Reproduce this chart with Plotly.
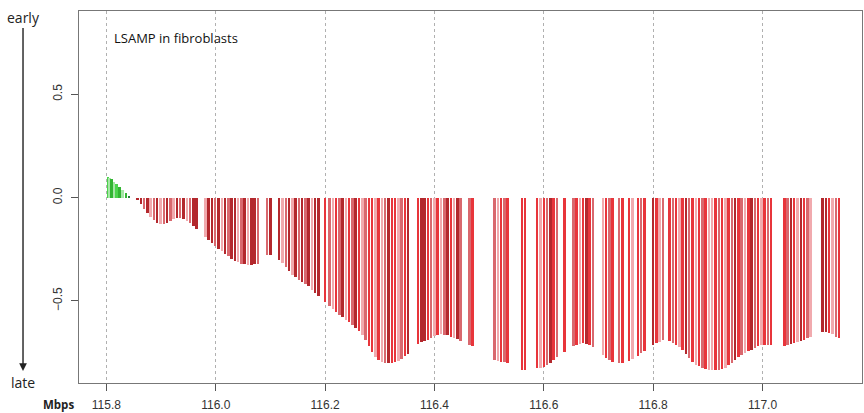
import plotly.graph_objects as go

# ---------------- data ----------------
# early-replicating (positive) probes, Mbp
green_pos = [115.803, 115.806, 115.810, 115.814, 115.819, 115.824, 115.830, 115.836, 115.842]
green_val = [0.100, 0.095, 0.088, 0.078, 0.066, 0.052, 0.036, 0.022, 0.010]
green_shade = [2, 1, 3, 1, 2, 3, 1, 3, 4]

# late-replicating (negative) probes, Mbp
red_pos = [
    115.857, 115.863, 115.869, 115.875, 115.881, 115.887, 115.893, 115.899, 115.905, 115.911,
    115.917, 115.923, 115.929, 115.935, 115.941, 115.947, 115.953, 115.959, 115.965,
    115.981, 115.987, 115.993, 115.999, 116.005, 116.011, 116.017, 116.023, 116.029, 116.035,
    116.041, 116.047, 116.053, 116.059, 116.065, 116.071, 116.077,
    116.094, 116.100,
    116.116, 116.122, 116.128, 116.134, 116.140, 116.146, 116.152, 116.158, 116.164, 116.170,
    116.176, 116.182, 116.188,
    116.200,
    116.208, 116.214, 116.220, 116.226, 116.232, 116.238, 116.244, 116.250, 116.256, 116.262,
    116.268, 116.274, 116.280, 116.286, 116.292, 116.298, 116.304, 116.310, 116.316, 116.322,
    116.328, 116.334, 116.340, 116.346, 116.352,
    116.370, 116.376, 116.382, 116.388, 116.394, 116.400, 116.406, 116.412, 116.418, 116.424,
    116.430, 116.436, 116.442, 116.448,
    116.464, 116.470,
    116.510, 116.516, 116.522, 116.528, 116.534,
    116.560, 116.566,
    116.588, 116.594, 116.600, 116.606, 116.612, 116.618, 116.624,
    116.638,
    116.654, 116.660, 116.666, 116.672, 116.678, 116.684, 116.690,
    116.708, 116.714, 116.720, 116.726,
    116.738, 116.744,
    116.756, 116.762,
    116.772, 116.778, 116.784,
    116.800, 116.806, 116.812, 116.818,
    116.830, 116.836, 116.842, 116.848, 116.854, 116.860, 116.866, 116.872, 116.878, 116.884,
    116.890, 116.896, 116.902, 116.908, 116.914, 116.920, 116.926, 116.932, 116.938, 116.944,
    116.950, 116.956, 116.962, 116.968, 116.974, 116.980, 116.986, 116.992, 116.998, 117.004,
    117.010, 117.016,
    117.040, 117.046, 117.052, 117.058, 117.064, 117.070, 117.076, 117.082, 117.088,
    117.110, 117.116, 117.122, 117.128, 117.134, 117.140,
]
red_val = [
    -0.010, -0.030, -0.055, -0.075, -0.095, -0.110, -0.125, -0.130, -0.130, -0.125,
    -0.115, -0.105, -0.100, -0.100, -0.105, -0.112, -0.122, -0.135, -0.150,
    -0.190, -0.205, -0.220, -0.235, -0.248, -0.260, -0.272, -0.284, -0.295, -0.305,
    -0.313, -0.319, -0.323, -0.325, -0.325, -0.323, -0.320,
    -0.280, -0.280,
    -0.300, -0.318, -0.336, -0.355, -0.372, -0.385, -0.397, -0.408, -0.418, -0.430,
    -0.445, -0.460, -0.475,
    -0.505,
    -0.525, -0.540, -0.553, -0.566, -0.578, -0.590, -0.604, -0.617, -0.630, -0.645,
    -0.665, -0.690, -0.718, -0.745, -0.770, -0.786, -0.796, -0.800, -0.802, -0.800,
    -0.797, -0.790, -0.780, -0.768, -0.755,
    -0.708, -0.700, -0.695, -0.688, -0.678, -0.668, -0.663, -0.662, -0.663, -0.666,
    -0.672, -0.678, -0.685, -0.692,
    -0.712, -0.720,
    -0.786, -0.790, -0.793, -0.796, -0.800,
    -0.834, -0.835,
    -0.825, -0.823, -0.820, -0.812, -0.800, -0.788, -0.773,
    -0.745,
    -0.720, -0.712, -0.706, -0.705, -0.708, -0.714, -0.725,
    -0.760, -0.775, -0.788, -0.795,
    -0.800, -0.800,
    -0.792, -0.782,
    -0.765, -0.752, -0.740,
    -0.714, -0.705, -0.697, -0.690,
    -0.695, -0.703, -0.712, -0.725, -0.738, -0.755, -0.775, -0.795, -0.808, -0.817,
    -0.823, -0.828, -0.832, -0.834, -0.834, -0.832, -0.830, -0.822, -0.812, -0.800,
    -0.784, -0.772, -0.762, -0.752, -0.743, -0.735, -0.727, -0.720, -0.715, -0.714,
    -0.714, -0.714,
    -0.718, -0.714, -0.710, -0.705, -0.700, -0.694, -0.687, -0.680, -0.673,
    -0.650, -0.652, -0.655, -0.662, -0.672, -0.680,
]
red_shade = [
    4, 4, 2, 4, 1, 2, 4, 1, 2, 4,
    2, 1, 4, 2, 4, 1, 2, 4, 4,
    1, 4, 4, 2, 4, 1, 4, 2, 4, 4,
    1, 2, 4, 1, 4, 4, 2,
    2, 4,
    4, 1, 2, 4, 1, 4, 2, 4, 2, 4,
    1, 4, 4,
    3,
    2, 1, 3, 2, 4, 1, 3, 2, 4, 3,
    1, 2, 3, 3, 1, 3, 1, 2, 4, 3,
    3, 1, 2, 3, 4,
    3, 4, 4, 3, 2, 1, 3, 1, 2, 4,
    3, 1, 4, 2,
    2, 3,
    2, 1, 3, 2, 3,
    3, 3,
    3, 1, 3, 2, 4, 3, 2,
    3,
    2, 3, 1, 3, 4, 3, 2,
    1, 3, 2, 3,
    2, 3,
    3, 1,
    3, 2, 3,
    4, 3, 1, 2,
    3, 2, 3, 1, 3, 4, 2, 3, 1, 3,
    2, 3, 1, 1, 3, 2, 3, 1, 3, 2,
    4, 3, 2, 1, 3, 4, 2, 3, 1, 3,
    2, 3,
    3, 2, 4, 3, 1, 4, 3, 2, 1,
    4, 4, 3, 1, 2, 3,
]

x_ticks = [115.8, 116.0, 116.2, 116.4, 116.6, 116.8, 117.0]
y_ticks = [-0.5, 0.0, 0.5]
title_text = "LSAMP in fibroblasts"

# ---------------- styling ----------------
RED_PAL = {1: "#f1aaae", 2: "#d9686e", 3: "#e8353b", 4: "#b3282d"}
GREEN_PAL = {1: "#a6e6a6", 2: "#4cd44c", 3: "#33b533", 4: "#2a7d3a"}

n_r = min(len(red_pos), len(red_val))
red_colors = [RED_PAL[red_shade[i]] if i < len(red_shade) else RED_PAL[3] for i in range(n_r)]
green_colors = [GREEN_PAL[s] for s in green_shade]

fig = go.Figure()
fig.add_trace(go.Bar(x=green_pos, y=green_val, width=0.0036,
                     marker=dict(color=green_colors, line=dict(width=0)),
                     showlegend=False, hoverinfo="x+y"))
fig.add_trace(go.Bar(x=red_pos[:n_r], y=red_val[:n_r], width=0.0045,
                     marker=dict(color=red_colors, line=dict(width=0)),
                     showlegend=False, hoverinfo="x+y"))

axis_font = dict(family="Liberation Sans, Arial, sans-serif", size=12, color="#333333")
label_font = "Open Sans, Noto Sans, sans-serif"

fig.update_layout(
    width=864, height=413,
    margin=dict(l=79, r=2, t=11, b=30),
    paper_bgcolor="white", plot_bgcolor="white",
    bargap=0,
    xaxis=dict(
        range=[115.7499, 117.182], tickvals=x_ticks, tickformat=".1f",
        showgrid=True, gridcolor="#b0b0b0", griddash="dot", gridwidth=1,
        zeroline=False, showline=True, mirror=True, linecolor="#777777", linewidth=1,
        ticks="outside", ticklen=7, tickcolor="#555555", tickfont=axis_font,
        ticklabelstandoff=4,
    ),
    yaxis=dict(
        range=[-0.897, 0.903], tickvals=y_ticks, tickformat=".1f", tickangle=-90,
        showgrid=False, zeroline=False, showline=True, mirror=True,
        linecolor="#777777", linewidth=1,
        ticks="outside", ticklen=7, tickcolor="#555555", tickfont=axis_font,
        ticklabelstandoff=4,
    ),
    annotations=[
        dict(text="early", xref="paper", yref="paper", x=-0.0715, y=(383 - 371) / 372,
             ax=0, ay=-354, showarrow=True, arrowhead=2, arrowsize=1.1, arrowwidth=1.4,
             arrowcolor="#222222", font=dict(family=label_font, size=14, color="#222222")),
        dict(text="late", xref="paper", yref="paper", x=-0.0715, y=(383 - 382) / 372,
             showarrow=False, xanchor="center", yanchor="middle",
             font=dict(family=label_font, size=14, color="#222222")),
        dict(text="<b>Mbps</b>", xref="paper", yref="paper", x=(58 - 79) / 783,
             y=(383 - 404) / 372, showarrow=False, xanchor="center", yanchor="middle",
             font=dict(family=label_font, size=11.5, color="#222222")),
        dict(text=title_text, xref="paper", yref="paper", x=(112 - 79) / 783,
             y=(383 - 38) / 372, showarrow=False, xanchor="left", yanchor="middle",
             font=dict(family=label_font, size=13, color="#111111")),
    ],
)

fig.write_html("out.html")
